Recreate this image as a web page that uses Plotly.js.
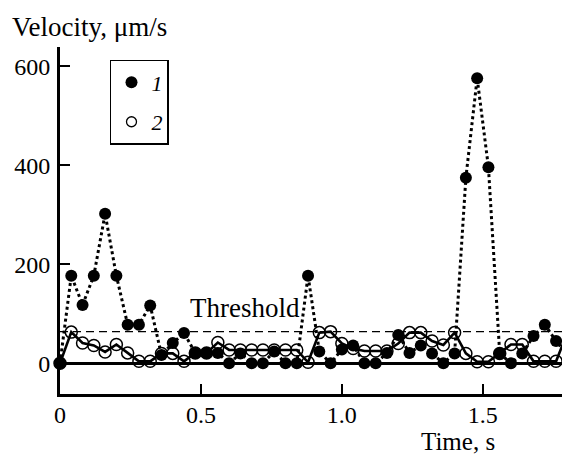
<!DOCTYPE html>
<html>
<head>
<meta charset="utf-8">
<script src="https://cdn.plot.ly/plotly-3.0.1.min.js"></script>
<style>html,body{margin:0;padding:0;background:#fff;}#chart{width:562px;height:456px;}</style>
</head>
<body>
<div id="chart"></div>
<script>
const time = [0,0.04,0.08,0.12,0.16,0.20,0.24,0.28,0.32,0.36,0.40,0.44,0.48,0.52,0.56,0.60,0.64,0.68,0.72,0.76,0.80,0.84,0.88,0.92,0.96,
              1.00,1.04,1.08,1.12,1.16,1.20,1.24,1.28,1.32,1.36,1.40,1.44,1.48,1.52,1.56,1.60,1.64,1.68,1.72,1.76,1.80];
const series1 = [0,177,118,177,302,177,78,78,117,17,41,61,21,21,21,0,20,0,0,24,0,0,177,24,0,
                 28,36,0,0,21,57,21,36,20,0,20,375,576,396,20,0,20,55,78,45,18];
const series2 = [0,63,41,36,23,38,21,4,4,20,20,4,21,21,42,27,27,27,27,27,27,27,2,62,64,
                 40,30,25,25,25,40,62,62,45,37,62,20,3,3,20,38,38,4,4,4,62];
const threshold = 64;
const xTickVals = [0,0.5,1.0,1.5];
const xTickText = ["0","0.5","1.0","1.5"];
const yTickVals = [0,200,400,600];
const legendNames = ["1","2"];

const FONT = 'Liberation Serif';

const traces = [
  {x: time, y: series2, type:'scatter', mode:'lines+markers', showlegend:false, cliponaxis:false,
   line:{color:'#000000', width:2.6},
   marker:{symbol:'circle-open', size:12, color:'#000000', line:{color:'#000000', width:1.5}}},
  {x: time, y: series1, type:'scatter', mode:'lines', showlegend:false,
   line:{color:'#000000', width:3, dash:'dot'}},
  {x: time, y: series1, type:'scatter', mode:'markers', showlegend:false, cliponaxis:false,
   marker:{symbol:'circle', size:12, color:'#000000'}},
  {x:[null], y:[null], type:'scatter', mode:'markers', name:legendNames[0], legendgroup:'a',
   marker:{symbol:'circle', size:12, color:'#000000'}},
  {x:[null], y:[null], type:'scatter', mode:'markers', name:legendNames[1], legendgroup:'b',
   marker:{symbol:'circle-open', size:10, color:'#000000', line:{color:'#000000', width:1.3}}}
];

const layout = {
  width:562, height:456,
  margin:{l:60, r:0, t:47, b:62, pad:0},
  paper_bgcolor:'#fff', plot_bgcolor:'#fff',
  font:{family:FONT, size:24, color:'#000'},
  showlegend:true,
  legend:{x:0.0996, y:0.963, xanchor:'left', yanchor:'top', bordercolor:'#000', borderwidth:1.5,
          bgcolor:'#fff', font:{family:FONT, size:22, style:'italic'}, tracegroupgap:8},
  xaxis:{range:[0,1.781], showgrid:false, zeroline:false, showline:true, linecolor:'#000', linewidth:3,
         ticks:'inside', ticklen:10, tickwidth:2, tickcolor:'#000', ticklabelstandoff:-3,
         tickvals:xTickVals, ticktext:xTickText, tickfont:{family:FONT, size:24}},
  yaxis:{range:[-62,639], showgrid:false, zeroline:true, zerolinecolor:'#000', zerolinewidth:2.5,
         showline:true, linecolor:'#000', linewidth:3, ticklabelstandoff:2,
         ticks:'inside', ticklen:10, tickwidth:2, tickcolor:'#000',
         tickvals:yTickVals, tickfont:{family:FONT, size:24}},
  shapes:[
    {type:'line', xref:'x', yref:'y', x0:0, x1:1.781, y0:threshold, y1:threshold,
     line:{color:'#000', width:1.2, dash:'8px,5px'}, layer:'below'}
  ],
  annotations:[
    {text:'Velocity, μm/s', xref:'paper', yref:'paper', x:-0.0996, y:1.0567, xanchor:'left', yanchor:'middle',
     showarrow:false, font:{family:FONT, size:27}},
    {text:'Time, s', xref:'paper', yref:'paper', x:0.793, y:-0.1383, xanchor:'center', yanchor:'middle',
     showarrow:false, font:{family:FONT, size:25}},
    {text:'Threshold', xref:'x', yref:'y', x:0.658, y:111, xanchor:'center', yanchor:'middle',
     showarrow:false, font:{family:FONT, size:27}}
  ]
};

Plotly.newPlot('chart', traces, layout, {displayModeBar:false, staticPlot:true});
</script>
</body>
</html>
